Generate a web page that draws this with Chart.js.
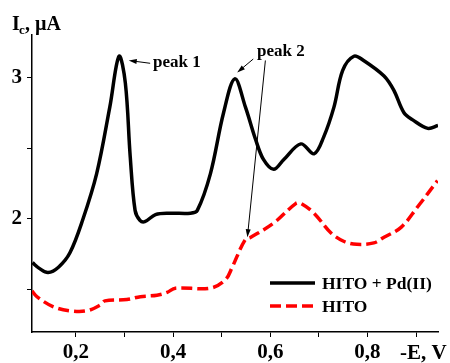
<!DOCTYPE html>
<html>
<head>
<meta charset="utf-8">
<script src="https://cdn.jsdelivr.net/npm/chart.js@4"></script>
<style>
  body { margin: 0; background: #fff; }
</style>
</head>
<body>
<canvas id="chart" width="450" height="363"></canvas>
<script>
// HITO + Pd(II)
const pdE = [0.111, 0.125, 0.143, 0.165, 0.188, 0.214, 0.243, 0.270, 0.289, 0.302, 0.312, 0.322, 0.332, 0.342, 0.364, 0.394, 0.436, 0.450, 0.477, 0.504, 0.527, 0.549, 0.570, 0.586, 0.607, 0.628, 0.663, 0.690, 0.710, 0.731, 0.749, 0.772, 0.792, 0.834, 0.854, 0.875, 0.893, 0.924, 0.945];
const pdI = [1.69, 1.65, 1.62, 1.66, 1.76, 1.99, 2.32, 2.79, 3.15, 2.96, 2.44, 2.06, 1.99, 1.98, 2.03, 2.04, 2.04, 2.06, 2.32, 2.75, 2.99, 2.79, 2.56, 2.42, 2.35, 2.42, 2.53, 2.46, 2.58, 2.79, 3.05, 3.15, 3.12, 3.01, 2.91, 2.75, 2.70, 2.64, 2.66];

// HITO
const hitoE = [0.110, 0.120, 0.153, 0.188, 0.223, 0.250, 0.260, 0.305, 0.333, 0.367, 0.388, 0.405, 0.477, 0.508, 0.522, 0.548, 0.560, 0.607, 0.653, 0.663, 0.690, 0.725, 0.752, 0.778, 0.813, 0.834, 0.869, 0.902, 0.944];
const hitoI = [1.49, 1.45, 1.38, 1.35, 1.35, 1.39, 1.42, 1.43, 1.45, 1.46, 1.48, 1.51, 1.51, 1.57, 1.66, 1.85, 1.87, 1.97, 2.11, 2.11, 2.04, 1.90, 1.84, 1.82, 1.83, 1.87, 1.94, 2.08, 2.27];

const xTicks = [0.2, 0.3, 0.4, 0.5, 0.6, 0.7, 0.8, 0.9];
const xTickLabels = ['0,2', '', '0,4', '', '0,6', '', '0,8', ''];
const yTicks = [1.5, 2, 2.5, 3];
const yTickLabels = ['', '2', '', '3'];

const serif = '"Liberation Serif", "DejaVu Serif", serif';

function arrow(ctx, x1, y1, x2, y2, width) {
  const a = Math.atan2(y2 - y1, x2 - x1);
  ctx.lineWidth = width;
  ctx.beginPath();
  ctx.moveTo(x1, y1);
  ctx.lineTo(x2 - 6 * Math.cos(a), y2 - 6 * Math.sin(a));
  ctx.stroke();
  ctx.beginPath();
  ctx.moveTo(x2, y2);
  ctx.lineTo(x2 - 8 * Math.cos(a) + 2.5 * Math.sin(a), y2 - 8 * Math.sin(a) - 2.5 * Math.cos(a));
  ctx.lineTo(x2 - 8 * Math.cos(a) - 2.5 * Math.sin(a), y2 - 8 * Math.sin(a) + 2.5 * Math.cos(a));
  ctx.closePath();
  ctx.fill();
}

const extras = {
  id: 'extras',
  afterDraw(chart) {
    const ctx = chart.ctx;
    const xs = chart.scales.x, ys = chart.scales.y;
    const px = v => xs.getPixelForValue(v);
    const py = v => ys.getPixelForValue(v);
    ctx.save();
    ctx.fillStyle = '#000';
    ctx.strokeStyle = '#000';

    // axis titles
    ctx.textBaseline = 'alphabetic';
    ctx.textAlign = 'left';
    ctx.font = 'bold 20px ' + serif;
    ctx.fillText('I', 12, 30);
    ctx.font = 'bold 13px ' + serif;
    ctx.fillText('c', 19, 34);
    ctx.font = 'bold 20px ' + serif;
    ctx.fillText(', \u00b5A', 25, 30);
    ctx.font = 'bold 21px ' + serif;
    ctx.textBaseline = 'middle';
    ctx.fillText('-E, V', 400, 354);

    // peak annotations
    ctx.font = 'bold 17px ' + serif;
    ctx.fillText('peak 1', px(0.359), py(3.105));
    ctx.fillText('peak 2', px(0.573), py(3.18));
    arrow(ctx, px(0.353), py(3.10), px(0.309), py(3.12), 1);
    arrow(ctx, px(0.565), py(3.13), px(0.532), py(3.035), 1);
    arrow(ctx, px(0.590), py(3.12), px(0.553), py(1.87), 1);

    // legend
    const lx = chart.chartArea.right - 168;
    const rows = [283, 306];
    ctx.font = 'bold 17.5px ' + serif;
    chart.data.datasets.forEach((ds, i) => {
      ctx.strokeStyle = ds.borderColor;
      ctx.lineWidth = 3.5;
      ctx.setLineDash(ds.borderDash || []);
      ctx.beginPath();
      ctx.moveTo(lx, rows[i]);
      ctx.lineTo(lx + 45, rows[i]);
      ctx.stroke();
      ctx.setLineDash([]);
      ctx.fillStyle = '#000';
      ctx.fillText(ds.label, lx + 52, rows[i] + 1);
    });
    ctx.restore();
  }
};

new Chart(document.getElementById('chart'), {
  type: 'line',
  data: {
    datasets: [
      {
        label: 'HITO + Pd(II)',
        data: pdE.map((e, i) => ({ x: e, y: pdI[i] })),
        borderColor: '#000',
        borderWidth: 3.5,
        pointRadius: 0,
        tension: 0.35
      },
      {
        label: 'HITO',
        data: hitoE.map((e, i) => ({ x: e, y: hitoI[i] })),
        borderColor: '#ff0000',
        borderWidth: 3.5,
        borderDash: [11, 5],
        pointRadius: 0,
        tension: 0.35
      }
    ]
  },
  options: {
    responsive: false,
    animation: false,
    layout: { padding: { left: 0, top: 35, right: 12, bottom: 0 } },
    plugins: { legend: { display: false }, tooltip: { enabled: false } },
    scales: {
      x: {
        type: 'linear',
        min: 0.11,
        max: 0.945,
        afterBuildTicks: s => { s.ticks = xTicks.map(v => ({ value: v })); },
        afterFit: s => { s.height = 31; },
        ticks: {
          callback: (v, i) => xTickLabels[i],
          font: { family: serif, size: 21, weight: 'bold' },
          color: '#000',
          padding: 3,
          maxRotation: 0,
          autoSkip: false
        },
        grid: { drawOnChartArea: false, tickLength: 5, color: '#000', tickWidth: 1 },
        border: { color: '#000', width: 1.5 }
      },
      y: {
        min: 1.2,
        max: 3.3,
        afterBuildTicks: s => { s.ticks = yTicks.map(v => ({ value: v })); },
        afterFit: s => { s.width = 32; },
        ticks: {
          callback: (v, i) => yTickLabels[i],
          font: { family: serif, size: 21, weight: 'bold' },
          color: '#000',
          padding: 5,
          autoSkip: false
        },
        grid: { drawOnChartArea: false, tickLength: 5, color: '#000', tickWidth: 1 },
        border: { color: '#000', width: 1.5 }
      }
    }
  },
  plugins: [extras]
});
</script>
</body>
</html>
